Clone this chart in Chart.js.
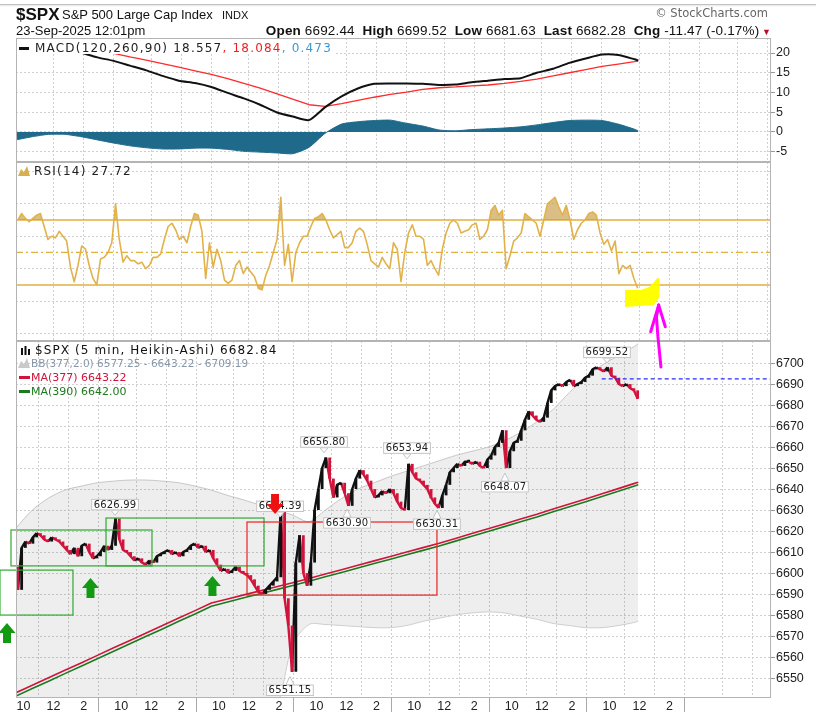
<!DOCTYPE html>
<html>
<head>
<meta charset="utf-8">
<script src="https://cdn.jsdelivr.net/npm/chart.js@4.4.1/dist/chart.umd.min.js"></script>
<style>
html, body { margin: 0; padding: 0; background: #fff; }
#page { position: relative; width: 816px; height: 712px; overflow: hidden; font-family: "Liberation Sans", Arial, sans-serif; color: #111; }
#page canvas { position: absolute; left: 0; top: 0; }
.t { position: absolute; white-space: nowrap; line-height: 1; }
</style>
</head>
<body>
<div id="page">
  <canvas id="cPrice" width="816" height="712"></canvas>
  <canvas id="cRsi" width="816" height="712"></canvas>
  <canvas id="cMacd" width="816" height="712"></canvas>

  <div style="position:absolute;left:0;top:4px;width:816px;height:1px;background:#c2c2c2"></div>
  <div style="position:absolute;left:0;top:5px;width:816px;height:2px;background:linear-gradient(#e6e6e6,#fff)"></div>
  <div class="t" style="left:16px;top:6px;font-weight:bold;font-size:17px">$SPX</div>
  <div class="t" style="left:62px;top:8px;font-size:13px">S&amp;P 500 Large Cap Index</div>
  <div class="t" style="left:222px;top:10px;font-size:11px">INDX</div>
  <div class="t" style="left:16px;top:24px;font-size:13px">23-Sep-2025 12:01pm</div>
  <div class="t" style="right:45px;top:24px;font-size:13.5px;letter-spacing:0.15px"><b>Open</b> 6692.44&nbsp; <b>High</b> 6699.52&nbsp; <b>Low</b> 6681.63&nbsp; <b>Last</b> 6682.28&nbsp; <b>Chg</b> -11.47 (-0.17%)<span style="color:#b0102a;font-size:9px"> ▼</span></div>
  <div class="t" style="right:48px;top:8px;font-family:'DejaVu Sans';font-size:11.5px;color:#666">© StockCharts.com</div>
</div>

<script>
// ---- price & RSI: one point per 3 five-minute bars ----
const fineStep = 3;
const priceOpen0 = 6603;
const priceClose = [
  6592, 6612, 6615, 6614, 6617, 6619, 6618, 6616, 6615, 6617,
  6616, 6615, 6613, 6611, 6609, 6612, 6608, 6613, 6614, 6610,
  6607, 6608, 6610, 6613, 6611, 6613, 6626, 6616, 6611, 6610,
  6608, 6606, 6607, 6605, 6604, 6606, 6605, 6608, 6609, 6610,
  6611, 6609, 6610, 6608, 6610, 6611, 6613, 6614, 6612, 6613,
  6610, 6611, 6607, 6604, 6601, 6602, 6600, 6601, 6603, 6601,
  6600, 6599, 6597, 6594, 6591, 6590, 6592, 6594, 6596, 6598,
  6630, 6588, 6575, 6553, 6605, 6618, 6600, 6594, 6605, 6630,
  6640, 6650, 6655, 6645, 6636, 6642, 6643, 6638, 6632, 6640,
  6645, 6649, 6647, 6644, 6640, 6636, 6637, 6639, 6638, 6640,
  6638, 6634, 6631, 6630, 6652, 6648, 6645, 6644, 6642, 6640,
  6636, 6633, 6631, 6637, 6642, 6648, 6650, 6652, 6651, 6653,
  6653, 6652, 6653, 6651, 6650, 6654, 6656, 6660, 6662, 6668,
  6650, 6658, 6662, 6663, 6668, 6673, 6677, 6675, 6673, 6672,
  6674, 6681, 6687, 6689, 6690, 6689, 6691, 6692, 6689, 6690,
  6691, 6693, 6694, 6697, 6698, 6697, 6696, 6698, 6694, 6693,
  6690, 6689, 6690, 6688, 6687, 6683
];
const rsi14 = [
  70, 74, 71, 69, 71, 73, 74, 66, 58, 60,
  59, 63, 60, 57, 41, 32, 42, 54, 52, 42,
  34, 30, 46, 47, 50, 56, 80, 58, 44, 48,
  45, 45, 43, 44, 40, 42, 47, 47, 49, 58,
  66, 68, 64, 58, 60, 56, 66, 74, 73, 63,
  34, 56, 41, 52, 45, 33, 31, 33, 42, 45,
  37, 41, 38, 35, 28, 27, 36, 42, 50, 58,
  84, 42, 55, 32, 50, 56, 60, 60, 66, 71,
  72, 74, 70, 64, 59, 61, 63, 53, 53, 56,
  63, 65, 63, 55, 45, 43, 41, 47, 43, 40,
  56, 52, 32, 50, 62, 67, 60, 60, 58, 42,
  45, 40, 36, 52, 62, 68, 70, 68, 62, 63,
  64, 67, 68, 58, 60, 64, 76, 79, 73, 76,
  40, 48, 57, 59, 62, 74, 72, 70, 68, 60,
  70, 80, 82, 84, 78, 73, 79, 70, 58, 64,
  68, 70, 74, 75, 73, 62, 55, 58, 51, 57,
  37, 42, 40, 42, 34, 28
];

// ---- smooth studies: sampled at these bar numbers ----
const coarseBars = [0, 13, 26, 39, 52, 65, 78, 91, 104, 117, 130, 143, 156, 169, 182, 195, 208, 221, 234, 247,
  260, 273, 286, 299, 312, 325, 338, 351, 364, 377, 390, 403, 416, 429, 442, 455, 468, 481, 494, 497];
const macdLine = [24.8, 23.6, 22.4, 21.2, 20.1, 18.9, 18.0, 16.8, 15.6, 14.2, 13.0, 12.4, 11.4, 9.9, 8.5, 6.9, 5.0, 3.9, 3.0, 6.3,
  9.0, 11.0, 12.2, 12.3, 12.3, 12.2, 11.9, 12.0, 12.6, 13.0, 13.4, 13.6, 15.0, 16.0, 17.5, 18.6, 19.6, 19.5, 18.4, 18.1];
const macdSignal = [26.0, 25.2, 24.2, 23.2, 22.2, 21.1, 19.9, 19.0, 18.2, 17.3, 16.4, 15.5, 14.6, 13.5, 12.3, 11.1, 9.7, 8.3, 6.9, 6.5,
  7.2, 8.0, 8.8, 9.5, 10.1, 10.8, 11.2, 11.4, 11.7, 11.9, 12.3, 12.8, 13.4, 14.2, 15.0, 15.8, 16.6, 17.2, 17.8, 18.0];
const macdHist = [-2.0, -1.2, -0.6, -0.6, -1.2, -2.0, -2.8, -3.5, -4.0, -4.3, -4.3, -4.1, -4.1, -4.4, -4.9, -5.1, -5.3, -5.5, -3.9, -0.3,
  2.0, 2.6, 2.9, 3.0, 2.2, 1.5, 0.5, 0.3, 0.6, 0.8, 1.0, 1.3, 1.8, 2.4, 2.9, 3.0, 2.9, 2.0, 0.7, 0.3];
const ma377 = [6543.0, 6546.6, 6550.1, 6553.7, 6557.2, 6560.8, 6564.4, 6567.9, 6571.5, 6575.0, 6578.6, 6582.1, 6585.7, 6587.6, 6589.6, 6591.5, 6593.5, 6595.4, 6597.4, 6599.5,
  6601.6, 6603.7, 6605.8, 6607.9, 6610.0, 6612.1, 6614.2, 6616.5, 6618.8, 6621.1, 6623.4, 6625.7, 6628.0, 6630.5, 6632.9, 6635.3, 6637.8, 6640.2, 6642.7, 6643.2];
const ma390 = [6541.4, 6545.0, 6548.5, 6552.1, 6555.6, 6559.2, 6562.8, 6566.3, 6569.9, 6573.4, 6577.0, 6580.5, 6584.2, 6586.2, 6588.2, 6590.1, 6592.1, 6594.1, 6596.1, 6598.2,
  6600.3, 6602.4, 6604.5, 6606.6, 6608.7, 6610.8, 6612.9, 6615.2, 6617.5, 6619.8, 6622.1, 6624.4, 6626.7, 6629.2, 6631.6, 6634.0, 6636.5, 6638.9, 6641.5, 6642.0];
const bbUpper = [6621.4, 6630.0, 6635.7, 6639.5, 6641.4, 6643.0, 6643.8, 6644.3, 6644.3, 6643.8, 6643.0, 6641.4, 6639.5, 6637.0, 6634.8, 6632.4, 6630.0, 6627.6, 6624.5, 6630.0,
  6635.5, 6640.0, 6643.0, 6646.0, 6648.5, 6651.0, 6653.5, 6656.0, 6658.0, 6660.0, 6663.0, 6667.0, 6672.0, 6678.0, 6686.0, 6693.0, 6699.0, 6703.5, 6708.0, 6709.2];
const bbLower = [6466, 6467, 6469, 6472, 6476, 6480, 6485, 6490, 6496, 6502, 6508, 6514, 6520, 6525, 6529, 6533, 6536, 6566, 6575.5, 6575.5,
  6575, 6574.5, 6574, 6574, 6575, 6577, 6578.5, 6580, 6581, 6581.5, 6581, 6579.5, 6578, 6576, 6575, 6574, 6574, 6575, 6576.5, 6577.2];

// ---- axes ----
const barsPerDay = 78, dayCount = 8, labeledDays = 7, lastBar = 603;
const hourOffsets = [6, 30, 54];
const hourLabels = ['10', '12', '2'];
const macdTicks = [-5, 0, 5, 10, 15, 20];
const rsiTicks = [0, 10, 20, 30, 40, 50, 60, 70, 80, 90, 100];
const rsiLabelled = [10, 30, 50, 70, 90];
const priceTicks = [6550, 6560, 6570, 6580, 6590, 6600, 6610, 6620, 6630, 6640, 6650, 6660, 6670, 6680, 6690, 6700];

// ---- annotations (bar number, price / RSI value) ----
const peakTexts = ['6626.99', '6634.39', '6656.80', '6653.94', '6699.52', '6630.90', '6630.31', '6648.07', '6551.15'];
const peakBars = [79.1, 210.9, 246.0, 312.3, 472.0, 264.4, 336.2, 390.5, 218.8];
const peakAnchor = [6627.0, 6626.2, 6656.8, 6653.9, 6699.5, 6630.9, 6630.3, 6648.1, 6551.2];
const peakAbove = [true, true, true, true, true, false, false, false, false];
const greenBoxes = [[-12.8, 45.5, 6601.4, 6580.0], [-4.0, 108.6, 6620.5, 6603.4], [71.9, 198.1, 6626.2, 6603.4]];
const redBoxes = [[184.5, 336.2, 6624.3, 6589.5]];
const upArrows = [[-7.2, 6576.2], [59.5, 6597.6], [156.9, 6598.6]];
const downArrows = [[206.9, 6628.1]];
const openPrice = 6692.44, openFromBar = 467.8;
const highlight = [[486.4, 26.9], [499.1, 26.9], [505.5, 28.8], [509.5, 31.6], [512.5, 34.6], [514.0, 33.8], [514.0, 22.6], [509.5, 17.6], [486.4, 16.4]];
const penShaft = [[515.1, -20.5], [512.7, -2.0], [511.5, 10.3], [513.3, 17.6]];
const penBarbs = [[506.9, 1.2], [518.6, 4.3]];

// ---- helpers ----
const fine = arr => arr.map((v, i) => ({ x: i * fineStep + 1.5, y: v }));
const coarse = arr => arr.map((v, i) => ({ x: coarseBars[i], y: v }));
const candles = priceClose.map((c, i) => ({ x: i * fineStep + 1.5, y: [i ? priceClose[i - 1] : priceOpen0, c] }));

const xTicks = [], tickLabel = new Map();
for (let d = 0; d < dayCount; d++) {
  const s = d * barsPerDay;
  xTicks.push(s);
  hourOffsets.forEach((o, k) => {
    xTicks.push(s + o);
    if (d < labeledDays) tickLabel.set(s + o, hourLabels[k]);
  });
}

const UP = '#111', DOWN = '#d0143c';
const axisFont = { family: "'Liberation Sans', Arial, sans-serif", size: 12.5 };
const gridCol = '#cfcfcf';
const legendFont = '12px "DejaVu Sans"';
const smallFont = '10.5px "DejaVu Sans"';

function xAxis(showLabels) {
  return {
    type: 'linear', min: 0, max: lastBar, offset: false,
    afterBuildTicks: s => { s.ticks = xTicks.map(v => ({ value: v })); },
    afterFit: s => { s.height = showLabels ? 14 : 0; s.paddingLeft = 0; s.paddingRight = 0; },
    ticks: { display: showLabels, autoSkip: false, maxRotation: 0, padding: -13, font: axisFont, color: '#222',
      callback: v => tickLabel.get(v) || '' },
    grid: {
      color: c => (c.tick && c.tick.value % barsPerDay === hourOffsets[0]) ? 'rgba(0,0,0,0)' : gridCol,
      drawTicks: showLabels, tickLength: 14,
      tickColor: c => (c.tick && c.tick.value % barsPerDay === 0) ? '#a8a8a8' : 'rgba(0,0,0,0)'
    },
    border: { display: false, dash: [2, 2] }
  };
}

function yAxis(min, max, vals, label) {
  return {
    position: 'right', min: min, max: max,
    afterBuildTicks: s => { s.ticks = vals.map(v => ({ value: v })); },
    afterFit: s => { s.width = 45; s.paddingTop = 0; s.paddingBottom = 0; },
    ticks: { font: axisFont, color: '#222', padding: 1, callback: label },
    grid: { color: gridCol, tickLength: 4, tickColor: c => (c.tick && label(c.tick.value) !== '') ? '#999' : 'rgba(0,0,0,0)' },
    border: { display: false, dash: [2, 2] }
  };
}

function frame(chart) {
  const a = chart.chartArea, ctx = chart.ctx;
  ctx.save();
  ctx.strokeStyle = '#b4b4b4';
  ctx.lineWidth = 1;
  ctx.strokeRect(a.left + 0.5, a.top + 0.5, a.right - a.left - 1, a.bottom - a.top - 1);
  ctx.restore();
}

function txt(ctx, s, x, y, font, color, spacing) {
  ctx.font = font;
  ctx.fillStyle = color;
  ctx.letterSpacing = spacing || '0px';
  ctx.fillText(s, x, y);
  return x + ctx.measureText(s).width;
}

function mountain(ctx, x, y, color) {
  ctx.fillStyle = color;
  ctx.beginPath();
  ctx.moveTo(x, y + 10); ctx.lineTo(x + 3, y + 3); ctx.lineTo(x + 6, y + 6);
  ctx.lineTo(x + 9, y); ctx.lineTo(x + 12, y + 10); ctx.closePath(); ctx.fill();
}

function arrow(ctx, x, yTip, s, color) {
  // s = 1 : body below the tip (up arrow), s = -1 : body above (down arrow)
  const hw = 8.5, hh = 10, sw = 4, len = 20;
  ctx.fillStyle = color;
  ctx.beginPath();
  ctx.moveTo(x, yTip);
  ctx.lineTo(x + hw, yTip + s * hh);
  ctx.lineTo(x + sw, yTip + s * hh);
  ctx.lineTo(x + sw, yTip + s * len);
  ctx.lineTo(x - sw, yTip + s * len);
  ctx.lineTo(x - sw, yTip + s * hh);
  ctx.lineTo(x - hw, yTip + s * hh);
  ctx.closePath();
  ctx.fill();
}

const common = {
  responsive: false, animation: false, events: [],
  plugins: { legend: { display: false }, tooltip: { enabled: false } },
  elements: { point: { radius: 0 }, line: { borderJoinStyle: 'round' } }
};

// ---- price panel ----
new Chart(document.getElementById('cPrice'), {
  type: 'line',
  data: {
    datasets: [
      { data: coarse(bbUpper), borderColor: '#cdcdcd', borderWidth: 1, fill: false, tension: 0.3, order: 5 },
      { data: coarse(bbLower), borderColor: '#cdcdcd', borderWidth: 1, fill: '-1', backgroundColor: 'rgba(0,0,0,0.065)', tension: 0.3, order: 4 },
      { data: coarse(ma390), borderColor: '#1d7a1d', borderWidth: 1.6, fill: false, order: 3 },
      { data: coarse(ma377), borderColor: DOWN, borderWidth: 1.6, fill: false, order: 2 },
      { data: fine(priceClose), borderWidth: 2.4, fill: false, order: 1.5,
        segment: { borderColor: c => c.p1.parsed.y < c.p0.parsed.y ? DOWN : UP } },
      { type: 'bar', data: candles, order: 1, barPercentage: 0.75, categoryPercentage: 1, minBarLength: 2, borderWidth: 0,
        backgroundColor: c => (c.raw && c.raw.y[1] < c.raw.y[0]) ? DOWN : UP }
    ]
  },
  options: Object.assign({}, common, {
    layout: { padding: { left: 16, right: 0, top: 341, bottom: 0 } },
    scales: { x: xAxis(true), y: yAxis(6540.5, 6710.5, priceTicks, v => String(v)) }
  }),
  plugins: [{
    id: 'priceMarks',
    afterDatasetsDraw(chart) {
      const ctx = chart.ctx, xs = chart.scales.x, ys = chart.scales.y, a = chart.chartArea;
      const X = b => xs.getPixelForValue(b), Y = p => ys.getPixelForValue(p);
      ctx.save();
      ctx.setLineDash([4, 3]);
      ctx.strokeStyle = '#2a2aff';
      ctx.lineWidth = 1.2;
      ctx.beginPath(); ctx.moveTo(X(openFromBar), Y(openPrice)); ctx.lineTo(a.right, Y(openPrice)); ctx.stroke();
      ctx.setLineDash([]);
      ctx.lineWidth = 1.2;
      ctx.strokeStyle = '#30a830';
      greenBoxes.forEach(b => ctx.strokeRect(X(b[0]), Y(b[2]), X(b[1]) - X(b[0]), Y(b[3]) - Y(b[2])));
      ctx.strokeStyle = '#e82222';
      redBoxes.forEach(b => ctx.strokeRect(X(b[0]), Y(b[2]), X(b[1]) - X(b[0]), Y(b[3]) - Y(b[2])));

      ctx.font = '10px "DejaVu Sans"';
      ctx.letterSpacing = '0.2px';
      ctx.textAlign = 'center';
      ctx.textBaseline = 'middle';
      peakTexts.forEach((t, i) => {
        const x = X(peakBars[i]), ya = Y(peakAnchor[i]);
        const w = ctx.measureText(t).width + 5, h = 11.5;
        const top = peakAbove[i] ? ya - 6 - h : ya + 9;
        const edge = peakAbove[i] ? top + h : top;
        const tip = peakAbove[i] ? ya - 1 : ya + 1;
        ctx.fillStyle = '#fff';
        ctx.strokeStyle = '#c4c4c4';
        ctx.lineWidth = 1;
        ctx.beginPath(); ctx.moveTo(x - 4, edge); ctx.lineTo(x, tip); ctx.lineTo(x + 4, edge); ctx.closePath();
        ctx.fill(); ctx.stroke();
        ctx.fillRect(x - w / 2, top, w, h);
        ctx.strokeRect(x - w / 2 + 0.5, top + 0.5, w - 1, h - 1);
        ctx.fillStyle = '#222';
        ctx.fillText(t, x, top + h / 2 + 0.5);
      });
      ctx.letterSpacing = '0px';
      upArrows.forEach(p => arrow(ctx, X(p[0]), Y(p[1]), 1, '#129a12'));
      downArrows.forEach(p => arrow(ctx, X(p[0]), Y(p[1]), -1, '#ee1111'));
      ctx.restore();
    },
    afterDraw(chart) {
      frame(chart);
      const ctx = chart.ctx;
      ctx.save();
      ctx.fillStyle = '#111';
      ctx.fillRect(21, 348, 2, 7); ctx.fillRect(24.5, 346, 2, 9); ctx.fillRect(28, 349, 2, 6);
      txt(ctx, '$SPX (5 min, Heikin-Ashi) 6682.84', 35, 354, legendFont, '#111', '1.1px');
      mountain(ctx, 18, 358, '#c9c9c9');
      txt(ctx, 'BB(377,2.0) 6577.25 - 6643.22 - 6709.19', 31, 367, smallFont, '#8796a8');
      ctx.fillStyle = DOWN; ctx.fillRect(19, 376, 11, 3);
      txt(ctx, 'MA(377) 6643.22', 31, 381, '11px "DejaVu Sans"', DOWN);
      ctx.fillStyle = '#1d7a1d'; ctx.fillRect(19, 390, 11, 3);
      txt(ctx, 'MA(390) 6642.00', 31, 394.5, '11px "DejaVu Sans"', '#1d7a1d');
      ctx.restore();
    }
  }]
});

// ---- RSI panel ----
new Chart(document.getElementById('cRsi'), {
  type: 'line',
  data: {
    datasets: [
      { data: fine(rsi14), borderColor: '#e2b24a', borderWidth: 1.6,
        fill: { target: { value: 70 }, above: 'rgba(196,150,58,0.62)', below: 'rgba(0,0,0,0)' } },
      { data: fine(rsi14), borderColor: 'rgba(0,0,0,0)', borderWidth: 0,
        fill: { target: { value: 30 }, above: 'rgba(0,0,0,0)', below: 'rgba(196,150,58,0.62)' } }
    ]
  },
  options: Object.assign({}, common, {
    layout: { padding: { left: 16, right: 0, top: 162, bottom: 371 } },
    scales: { x: xAxis(false), y: yAxis(-4.5, 105.7, rsiTicks, v => rsiLabelled.includes(v) ? String(v) : '') }
  }),
  plugins: [{
    id: 'rsiMarks',
    beforeDatasetsDraw(chart) {
      const ctx = chart.ctx, ys = chart.scales.y, a = chart.chartArea;
      ctx.save();
      ctx.strokeStyle = '#e0b040';
      [70, 30].forEach(v => {
        ctx.lineWidth = 1.6;
        ctx.beginPath(); ctx.moveTo(a.left, ys.getPixelForValue(v)); ctx.lineTo(a.right, ys.getPixelForValue(v)); ctx.stroke();
      });
      ctx.lineWidth = 1.3;
      ctx.setLineDash([7, 3, 2, 3]);
      ctx.beginPath(); ctx.moveTo(a.left, ys.getPixelForValue(50)); ctx.lineTo(a.right, ys.getPixelForValue(50)); ctx.stroke();
      ctx.restore();
    },
    afterDraw(chart) {
      frame(chart);
      const ctx = chart.ctx, xs = chart.scales.x, ys = chart.scales.y;
      const X = b => xs.getPixelForValue(b), Y = v => ys.getPixelForValue(v);
      ctx.save();
      ctx.fillStyle = '#ffff00';
      ctx.beginPath();
      highlight.forEach((p, i) => i ? ctx.lineTo(X(p[0]), Y(p[1])) : ctx.moveTo(X(p[0]), Y(p[1])));
      ctx.closePath(); ctx.fill();

      ctx.strokeStyle = '#ff00ff';
      ctx.lineWidth = 3;
      ctx.lineCap = 'round';
      ctx.lineJoin = 'round';
      ctx.beginPath();
      penShaft.forEach((p, i) => i ? ctx.lineTo(X(p[0]), Y(p[1])) : ctx.moveTo(X(p[0]), Y(p[1])));
      ctx.stroke();
      const tip = penShaft[penShaft.length - 1];
      penBarbs.forEach(b => {
        ctx.beginPath(); ctx.moveTo(X(b[0]), Y(b[1])); ctx.lineTo(X(tip[0]), Y(tip[1])); ctx.stroke();
      });

      mountain(ctx, 18, 166, '#d9ae4c');
      txt(ctx, 'RSI(14) 27.72', 34, 175, legendFont, '#222', '1.2px');
      ctx.restore();
    }
  }]
});

// ---- MACD panel ----
new Chart(document.getElementById('cMacd'), {
  type: 'line',
  data: {
    datasets: [
      { data: coarse(macdHist), borderColor: '#1f6a8a', backgroundColor: '#1f6a8a', borderWidth: 1, fill: 'origin', tension: 0.2, order: 3 },
      { data: coarse(macdSignal), borderColor: '#ff2a2a', borderWidth: 1.3, fill: false, order: 2 },
      { data: coarse(macdLine), borderColor: '#111', borderWidth: 2, fill: false, tension: 0.2, order: 1 }
    ]
  },
  options: Object.assign({}, common, {
    layout: { padding: { left: 16, right: 0, top: 38, bottom: 550 } },
    scales: { x: xAxis(false), y: yAxis(-7.6, 23.8, macdTicks, v => String(v)) }
  }),
  plugins: [{
    id: 'macdMarks',
    afterDraw(chart) {
      frame(chart);
      const ctx = chart.ctx;
      ctx.save();
      ctx.font = legendFont;
      ctx.letterSpacing = '1.2px';
      const w = ctx.measureText('MACD(120,260,90) 18.557, 18.084, 0.473').width;
      ctx.fillStyle = '#fff';
      ctx.fillRect(17, 39, w + 22, 15);
      ctx.fillStyle = '#111';
      ctx.fillRect(19, 47, 10, 3);
      let x = txt(ctx, 'MACD(120,260,90) 18.557', 35, 52, legendFont, '#222', '1.2px');
      x = txt(ctx, ', 18.084', x, 52, legendFont, '#f02020', '1.2px');
      txt(ctx, ', 0.473', x, 52, legendFont, '#3a9ad9', '1.2px');
      ctx.restore();
    }
  }]
});
</script>
</body>
</html>
